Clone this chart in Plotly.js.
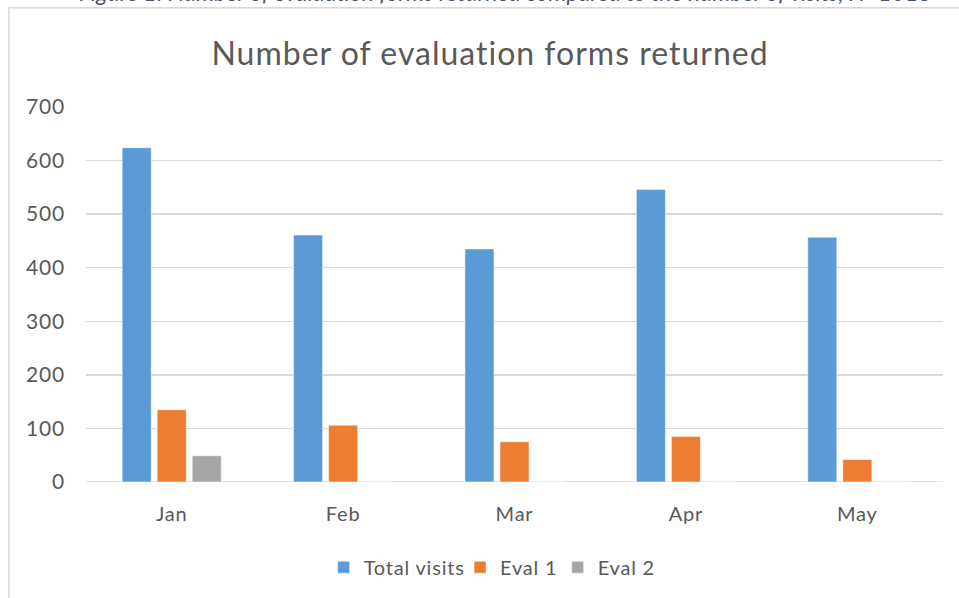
<!DOCTYPE html>
<html>
<head>
<meta charset="utf-8">
<script src="https://cdn.plot.ly/plotly-3.0.1.min.js"></script>
<style>
html,body{margin:0;padding:0;background:#fff;}
#chart{width:959px;height:598px;}
#chart .gtitle{letter-spacing:1px;}
#chart .xtick text,#chart .ytick text,#chart .legendtext{letter-spacing:0.8px;}
</style>
</head>
<body>
<div id="chart"></div>
<script>
const months = ["Jan", "Feb", "Mar", "Apr", "May"];
const totalVisits = [624, 461, 435, 546, 457];
const eval1 = [135, 106, 75, 85, 42];
const eval2 = [49, 0, 0, 0, 0];
const seriesNames = ["Total visits", "Eval 1", "Eval 2"];
const colors = ["#5B9BD5", "#ED7D31", "#A5A5A5"];
const yTicks = [0, 100, 200, 300, 400, 500, 600, 700];

const font = "Lato, 'Open Sans', 'Liberation Sans', sans-serif";
const traces = [totalVisits, eval1, eval2].map((vals, i) => ({
  type: "bar",
  name: seriesNames[i],
  x: months,
  y: vals,
  marker: {color: colors[i], line: {color: "rgba(255,255,255,0.5)", width: 1}},
  hoverinfo: "x+y+name"
}));

const layout = {
  width: 959, height: 598,
  margin: {l: 86, r: 16, t: 107, b: 115},
  paper_bgcolor: "#ffffff", plot_bgcolor: "#ffffff",
  title: {text: "Number of evaluation forms returned", x: 0.511, xanchor: "center", y: 0.91, yanchor: "middle",
          font: {family: font, size: 32, color: "#595959"}},
  barmode: "group",
  bargap: 0.387,
  bargroupgap: 0.17,
  xaxis: {showgrid: false, zeroline: false, showline: false, ticks: "", ticklabelstandoff: 18,
          tickfont: {family: font, size: 20, color: "#595959"}},
  yaxis: {range: [0, 700], tickvals: yTicks, ticktext: yTicks.map(String),
          showgrid: true, gridcolor: "#D9D9D9", gridwidth: 1.3, zeroline: false, showline: false,
          ticks: "", ticklabelstandoff: 20,
          tickfont: {family: font, size: 21, color: "#595959"}},
  showlegend: true,
  legend: {orientation: "h", x: 0.471, xanchor: "center", y: -0.224, yanchor: "middle",
           font: {family: font, size: 20, color: "#595959"}, itemwidth: 30,
           traceorder: "normal"},
  shapes: [
    {type: "rect", xref: "paper", yref: "paper", x0: -0.09, x1: 1.05, y0: -0.5, y1: 1.265,
     line: {color: "#D9D9D9", width: 1.5}, fillcolor: "rgba(0,0,0,0)", layer: "below"},
    {type: "line", xref: "paper", yref: "y", x0: 0, x1: 1, y0: 0, y1: 0, line: {color: "#D9D9D9", width: 1.5}, layer: "below"}
  ],
  annotations: [
    {text: "<i>Figure 1: Number of evaluation forms returned compared to the number of visits, N=1018</i>",
     xref: "paper", yref: "paper", x: 0.489, y: 1.263, xanchor: "center", yanchor: "bottom",
     showarrow: false, font: {family: font, size: 23, color: "#44546A"}}
  ]
};

Plotly.newPlot("chart", traces, layout, {displayModeBar: false, staticPlot: true});
</script>
</body>
</html>
